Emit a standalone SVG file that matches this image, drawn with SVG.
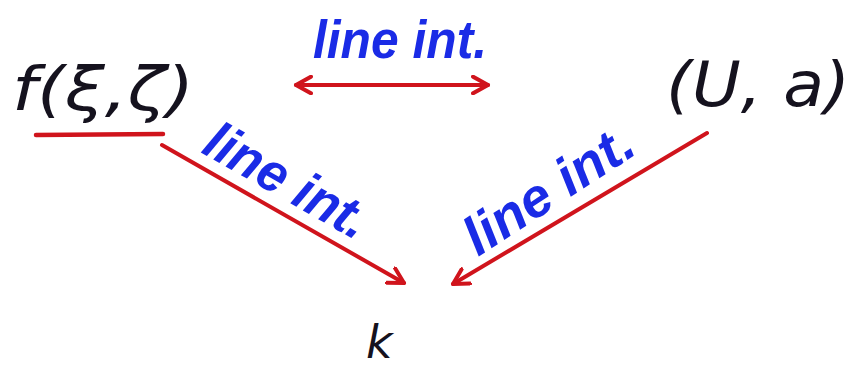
<svg xmlns="http://www.w3.org/2000/svg" width="858" height="369" viewBox="0 0 858 369">
<defs>
<marker id="head" viewBox="0 0 12 12" refX="10" refY="6" markerWidth="5" markerHeight="5" orient="auto-start-reverse" markerUnits="strokeWidth">
<path d="M1,1 L10,6 L1,11" fill="none" stroke="#d0141c" stroke-width="2.4" stroke-linecap="round" stroke-linejoin="round"/>
</marker>
</defs>
<style>
.math{font-family:"DejaVu Sans",sans-serif;font-style:oblique;fill:#15121e}
.lbl{font-family:"Liberation Sans",sans-serif;font-style:italic;font-weight:bold;fill:#1a2be6;font-size:54px}
.edge{stroke:#d0141c;stroke-width:4;fill:none;stroke-linecap:round}
</style>
<rect width="858" height="369" fill="#ffffff"/>
<g id="node-f">
<text class="math" x="12" y="110" font-size="60" textLength="182" lengthAdjust="spacingAndGlyphs">f(ξ,ζ)</text>
<line x1="36" y1="135" x2="163" y2="134" stroke="#d0141c" stroke-width="4.5" stroke-linecap="round"/>
</g>
<g id="node-Ua">
<text class="math" x="666" y="106" font-size="62" textLength="184" lengthAdjust="spacingAndGlyphs">(U, a)</text>
</g>
<g id="node-k">
<text class="math" x="366" y="358" font-size="46">k</text>
</g>
<g id="connectors">
<line class="edge" x1="296" y1="85" x2="488" y2="85" stroke-width="4.5" marker-start="url(#head)" marker-end="url(#head)"/>
<line class="edge" x1="162" y1="145" x2="404" y2="283" marker-end="url(#head)"/>
<line class="edge" x1="707" y1="133" x2="453" y2="284" marker-end="url(#head)"/>
</g>
<g id="labels">
<text class="lbl" x="313" y="58" textLength="174" lengthAdjust="spacingAndGlyphs">line int.</text>
<text class="lbl" x="200" y="152" transform="rotate(29.6 200 152)" textLength="180" lengthAdjust="spacingAndGlyphs">line int.</text>
<text class="lbl" x="478" y="257" transform="rotate(-33 478 257)" textLength="192" lengthAdjust="spacingAndGlyphs">line int.</text>
</g>
</svg>
